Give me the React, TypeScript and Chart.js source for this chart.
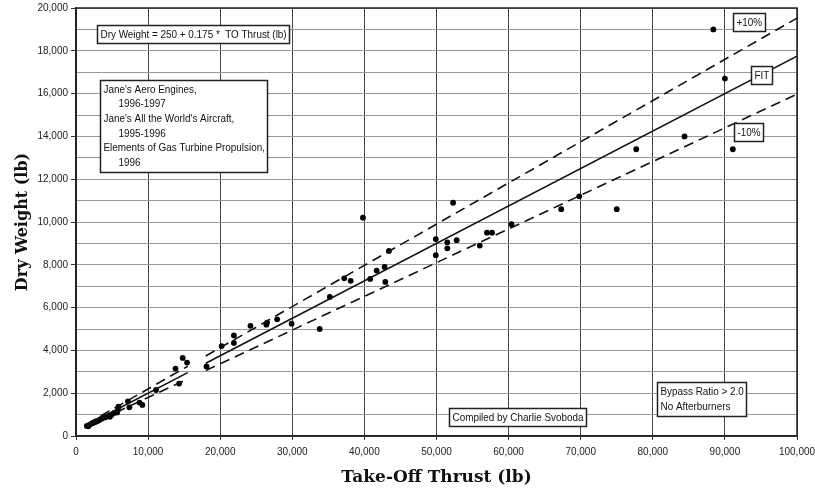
import React, { useEffect, useRef } from 'react';
import { Chart, registerables } from 'chart.js';

Chart.register(...registerables);

// Engine data: take-off thrust (lb) vs dry weight (lb)
const thrust = [
  1500, 1700, 1900, 2300, 2700, 3000, 3300, 3600, 4000, 4400, 4700, 4900, 5300, 5700, 5800, 5900,
  7200, 7400, 8800, 9200, 11100,
  13800, 14300, 14800, 15400,
  18100, 20200, 21900, 21900, 24200, 26400, 26500, 27900, 29900, 33800, 35200,
  37200, 38100, 39800, 40800, 41700, 42800, 42900, 43400,
  49900, 49900, 51500, 51500, 52300, 52800, 56000, 57000, 57700, 60400,
  67300, 69800, 75000, 77700, 84400, 88400, 90000, 91100,
];
const weight = [
  470, 450, 520, 600, 650, 700, 760, 820, 870, 920, 900, 980, 1080, 1100, 1210, 1370,
  1620, 1340, 1560, 1450, 2150,
  3150, 2450, 3650, 3430,
  3250, 4200, 4350, 4700, 5150, 5200, 5300, 5450, 5250, 5000, 6500,
  7370, 7250, 10200, 7340, 7730, 7900, 7200, 8650,
  9200, 8450, 9050, 8770, 10900, 9150, 8900, 9500, 9500, 9900,
  10600, 11200, 10600, 13400, 14000, 19000, 16700, 13400,
];

// Fit line (Dry Weight = 250 + 0.175 * TO Thrust) and +/-10% bands, two segments
const segAX = [1500, 15500];
const segBX = [18000, 100000];
const fitA = [512, 2962];
const fitB = [3400, 17750];
const upA = [564, 3259];
const upB = [3740, 19525];
const loA = [461, 2666];
const loB = [3060, 15975];

const xTicksMax = 100000;
const yTicksMax = 20000;

const tickFont = "'Liberation Sans', Arial, sans-serif";
const boxFamily = "'Liberation Sans', Arial, sans-serif";
const titleFamily = "'DejaVu Serif', serif";

const annotations = [
  { x: 2850, y: 19200, lines: ['Dry Weight = 250 + 0.175 *  TO Thrust (lb)'], indents: [0], lineH: 14 },
  {
    x: 3350, y: 16640,
    lines: ["Jane's Aero Engines,", '1996-1997', "Jane's All the World's Aircraft,", '1995-1996', 'Elements of Gas Turbine Propulsion,', '1996'],
    indents: [0, 15, 0, 15, 0, 15], lineH: 14.6,
  },
  { x: 91100, y: 19750, lines: ['+10%'], indents: [0], lineH: 14 },
  { x: 93600, y: 17300, lines: ['FIT'], indents: [0], lineH: 14 },
  { x: 91200, y: 14630, lines: ['-10%'], indents: [0], lineH: 14 },
  { x: 51700, y: 1310, lines: ['Compiled by Charlie Svoboda'], indents: [0], lineH: 14 },
  { x: 80600, y: 2510, lines: ['Bypass Ratio > 2.0', 'No Afterburners'], indents: [0, 0], lineH: 15 },
];

const pts = (xs: number[], ys: number[]) => xs.map((x, i) => ({ x, y: ys[i] }));

const SQUEEZE = 0.9;

const boxesPlugin = {
  id: 'boxes',
  afterDatasetsDraw(chart: any) {
    const { ctx, chartArea, scales } = chart;
    ctx.save();
    // plot frame
    ctx.strokeStyle = '#222';
    ctx.lineWidth = 1.5;
    ctx.strokeRect(chartArea.left, chartArea.top, chartArea.right - chartArea.left, chartArea.bottom - chartArea.top);
    ctx.font = `11px ${boxFamily}`;
    ctx.textBaseline = 'middle';
    ctx.textAlign = 'left';
    for (const a of annotations) {
      const px = Math.round(scales.x.getPixelForValue(a.x)) + 0.5;
      const py = Math.round(scales.y.getPixelForValue(a.y)) + 0.5;
      let w = 0;
      a.lines.forEach((l, i) => {
        w = Math.max(w, ctx.measureText(l).width * SQUEEZE + a.indents[i]);
      });
      const padX = 3;
      const padY = 2;
      const bw = Math.round(w + padX * 2);
      const bh = Math.round(a.lines.length * a.lineH + padY * 2);
      ctx.fillStyle = '#fff';
      ctx.fillRect(px, py, bw, bh);
      ctx.strokeStyle = '#222';
      ctx.lineWidth = 1.5;
      ctx.strokeRect(px, py, bw, bh);
      ctx.fillStyle = '#111';
      a.lines.forEach((l, i) => {
        ctx.save();
        ctx.translate(px + padX + a.indents[i], py + padY + a.lineH * (i + 0.5));
        ctx.scale(SQUEEZE, 1);
        ctx.fillText(l, 0, 0);
        ctx.restore();
      });
    }
    ctx.restore();
  },
};

export default function App() {
  const ref = useRef<HTMLCanvasElement | null>(null);
  useEffect(() => {
    if (!ref.current) return;
    const lineDs = (data: any[], dash: number[]) => ({
      type: 'line' as const,
      data,
      borderColor: '#111',
      borderWidth: 1.6,
      borderDash: dash,
      pointRadius: 0,
      showLine: true,
      fill: false,
      tension: 0,
    });
    const chart = new Chart(ref.current, {
      type: 'scatter',
      data: {
        datasets: [
          lineDs(pts(segAX, fitA), []),
          lineDs(pts(segBX, fitB), []),
          lineDs(pts(segAX, upA), [10, 6]),
          lineDs(pts(segBX, upB), [10, 6]),
          lineDs(pts(segAX, loA), [10, 6]),
          lineDs(pts(segBX, loB), [10, 6]),
          {
            type: 'scatter',
            data: pts(thrust, weight),
            backgroundColor: '#000',
            borderWidth: 0,
            pointRadius: 2.9,
          } as any,
        ],
      },
      options: {
        responsive: false,
        animation: false,
        layout: { padding: { left: 0, right: 18, top: 8, bottom: 0 } },
        plugins: { legend: { display: false }, tooltip: { enabled: false } },
        scales: {
          x: {
            type: 'linear',
            min: 0,
            max: xTicksMax,
            ticks: {
              stepSize: 10000,
              maxRotation: 0,
              autoSkip: false,
              padding: 6,
              color: '#222',
              font: { family: tickFont, size: 10 },
              callback: (v: any) => Number(v).toLocaleString('en-US'),
            },
            grid: { color: '#444', lineWidth: 1, tickLength: 4, tickColor: '#333' },
            border: { color: '#222', width: 1.5 },
            title: {
              display: true,
              text: 'Take-Off Thrust (lb)',
              color: '#111',
              font: { family: titleFamily, size: 17, weight: 'bold' },
              padding: { top: 4, bottom: 0 },
            },
            afterFit: (s: any) => { s.height = 52; s.paddingLeft = 0; s.paddingRight = 0; },
          },
          y: {
            type: 'linear',
            min: 0,
            max: yTicksMax,
            ticks: {
              stepSize: 1000,
              autoSkip: false,
              padding: 3,
              color: '#222',
              font: { family: tickFont, size: 10 },
              callback: (v: any) => (Number(v) % 2000 === 0 ? Number(v).toLocaleString('en-US') : ''),
            },
            grid: {
              color: '#999',
              lineWidth: 1,
              tickLength: 5,
              tickColor: (c: any) => (c.tick && c.tick.value % 2000 === 0 ? '#333' : 'rgba(0,0,0,0)'),
            },
            border: { color: '#222', width: 1.5 },
            title: {
              display: true,
              text: 'Dry Weight (lb)',
              color: '#111',
              font: { family: titleFamily, size: 16, weight: 'bold' },
              padding: { top: 13, bottom: 0 },
            },
            afterFit: (s: any) => { s.width = 76; s.paddingTop = 0; s.paddingBottom = 0; },
          },
        },
      } as any,
      plugins: [boxesPlugin],
    });
    return () => chart.destroy();
  }, []);
  return (
    <div style={{ position: 'fixed', left: 0, top: 0, width: 815, height: 488, background: '#fff' }}>
      <canvas ref={ref} width={815} height={488} style={{ width: 815, height: 488, display: 'block' }} />
    </div>
  );
}
